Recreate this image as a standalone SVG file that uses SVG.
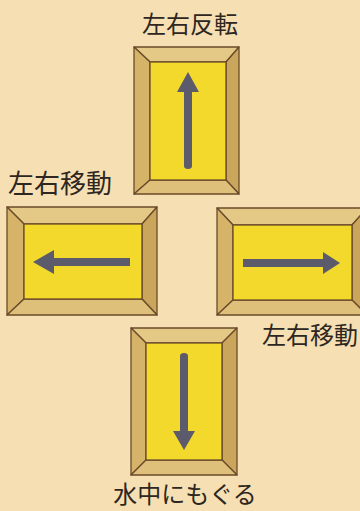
<svg xmlns="http://www.w3.org/2000/svg" width="360" height="511" viewBox="0 0 360 511">
<style>
.bg{fill:#f5dfb3}
.t{fill:#e3c886;stroke:#6b4b2b;stroke-width:1.3;stroke-linejoin:round}
.l{fill:#d5b368;stroke:#6b4b2b;stroke-width:1.3;stroke-linejoin:round}
.r{fill:#c9a65c;stroke:#6b4b2b;stroke-width:1.3;stroke-linejoin:round}
.b{fill:#dec07b;stroke:#6b4b2b;stroke-width:1.3;stroke-linejoin:round}
.in{fill:#f2d92c;stroke:#6b4b2b;stroke-width:1.3}
.ar{fill:#5c5b6c}
.lb{font-family:"Noto Sans CJK JP","Noto Sans CJK SC",sans-serif;font-size:24px;fill:#2e2620}
</style>
<rect class="bg" x="0" y="0" width="360" height="511"/>
<g id="up">
<polygon class="t" points="134,47 239,47 226,62 150,62"/>
<polygon class="l" points="134,47 150,62 150,180 134,194"/>
<polygon class="r" points="239,47 239,194 226,180 226,62"/>
<polygon class="b" points="134,194 150,180 226,180 239,194"/>
<rect class="in" x="150" y="62" width="76" height="118"/>
<path class="ar" d="M188,72 L199,92 L192,92 L192,166 Q192,169 188,169 Q184,169 184,166 L184,92 L177,92 Z"/>
</g>
<g id="left">
<polygon class="t" points="7,207 157,207 142,224 24,224"/>
<polygon class="l" points="7,207 24,224 24,299 7,315"/>
<polygon class="r" points="157,207 157,315 142,299 142,224"/>
<polygon class="b" points="7,315 24,299 142,299 157,315"/>
<rect class="in" x="24" y="224" width="118" height="75"/>
<path class="ar" d="M33,262 L54,250 L54,258 L130,258 L130,266 L54,266 L54,274 Z"/>
</g>
<g id="right">
<polygon class="t" points="217,208 367,208 352,225 233,225"/>
<polygon class="l" points="217,208 233,225 233,300 217,315"/>
<polygon class="r" points="367,208 367,315 352,300 352,225"/>
<polygon class="b" points="217,315 233,300 352,300 367,315"/>
<rect class="in" x="233" y="225" width="119" height="75"/>
<path class="ar" d="M340,263 L323,252 L323,259 L243,259 L243,267 L323,267 L323,274 Z"/>
</g>
<g id="down">
<polygon class="t" points="131,328 237,328 222,343 146,343"/>
<polygon class="l" points="131,328 146,343 146,460 131,475"/>
<polygon class="r" points="237,328 237,475 222,460 222,343"/>
<polygon class="b" points="131,475 146,460 222,460 237,475"/>
<rect class="in" x="146" y="343" width="76" height="117"/>
<path class="ar" d="M184,450 L195,431 L188,431 L188,356 Q188,353 184,353 Q180,353 180,356 L180,431 L173,431 Z"/>
</g>
<g id="labels">
<text class="lb" x="190" y="33" text-anchor="middle">左右反転</text>
<text class="lb" x="8" y="193" style="font-size:26px">左右移動</text>
<text class="lb" x="262" y="344">左右移動</text>
<text class="lb" x="185" y="503" text-anchor="middle">水中にもぐる</text>
</g>
<g id="connectors"></g>
</svg>
